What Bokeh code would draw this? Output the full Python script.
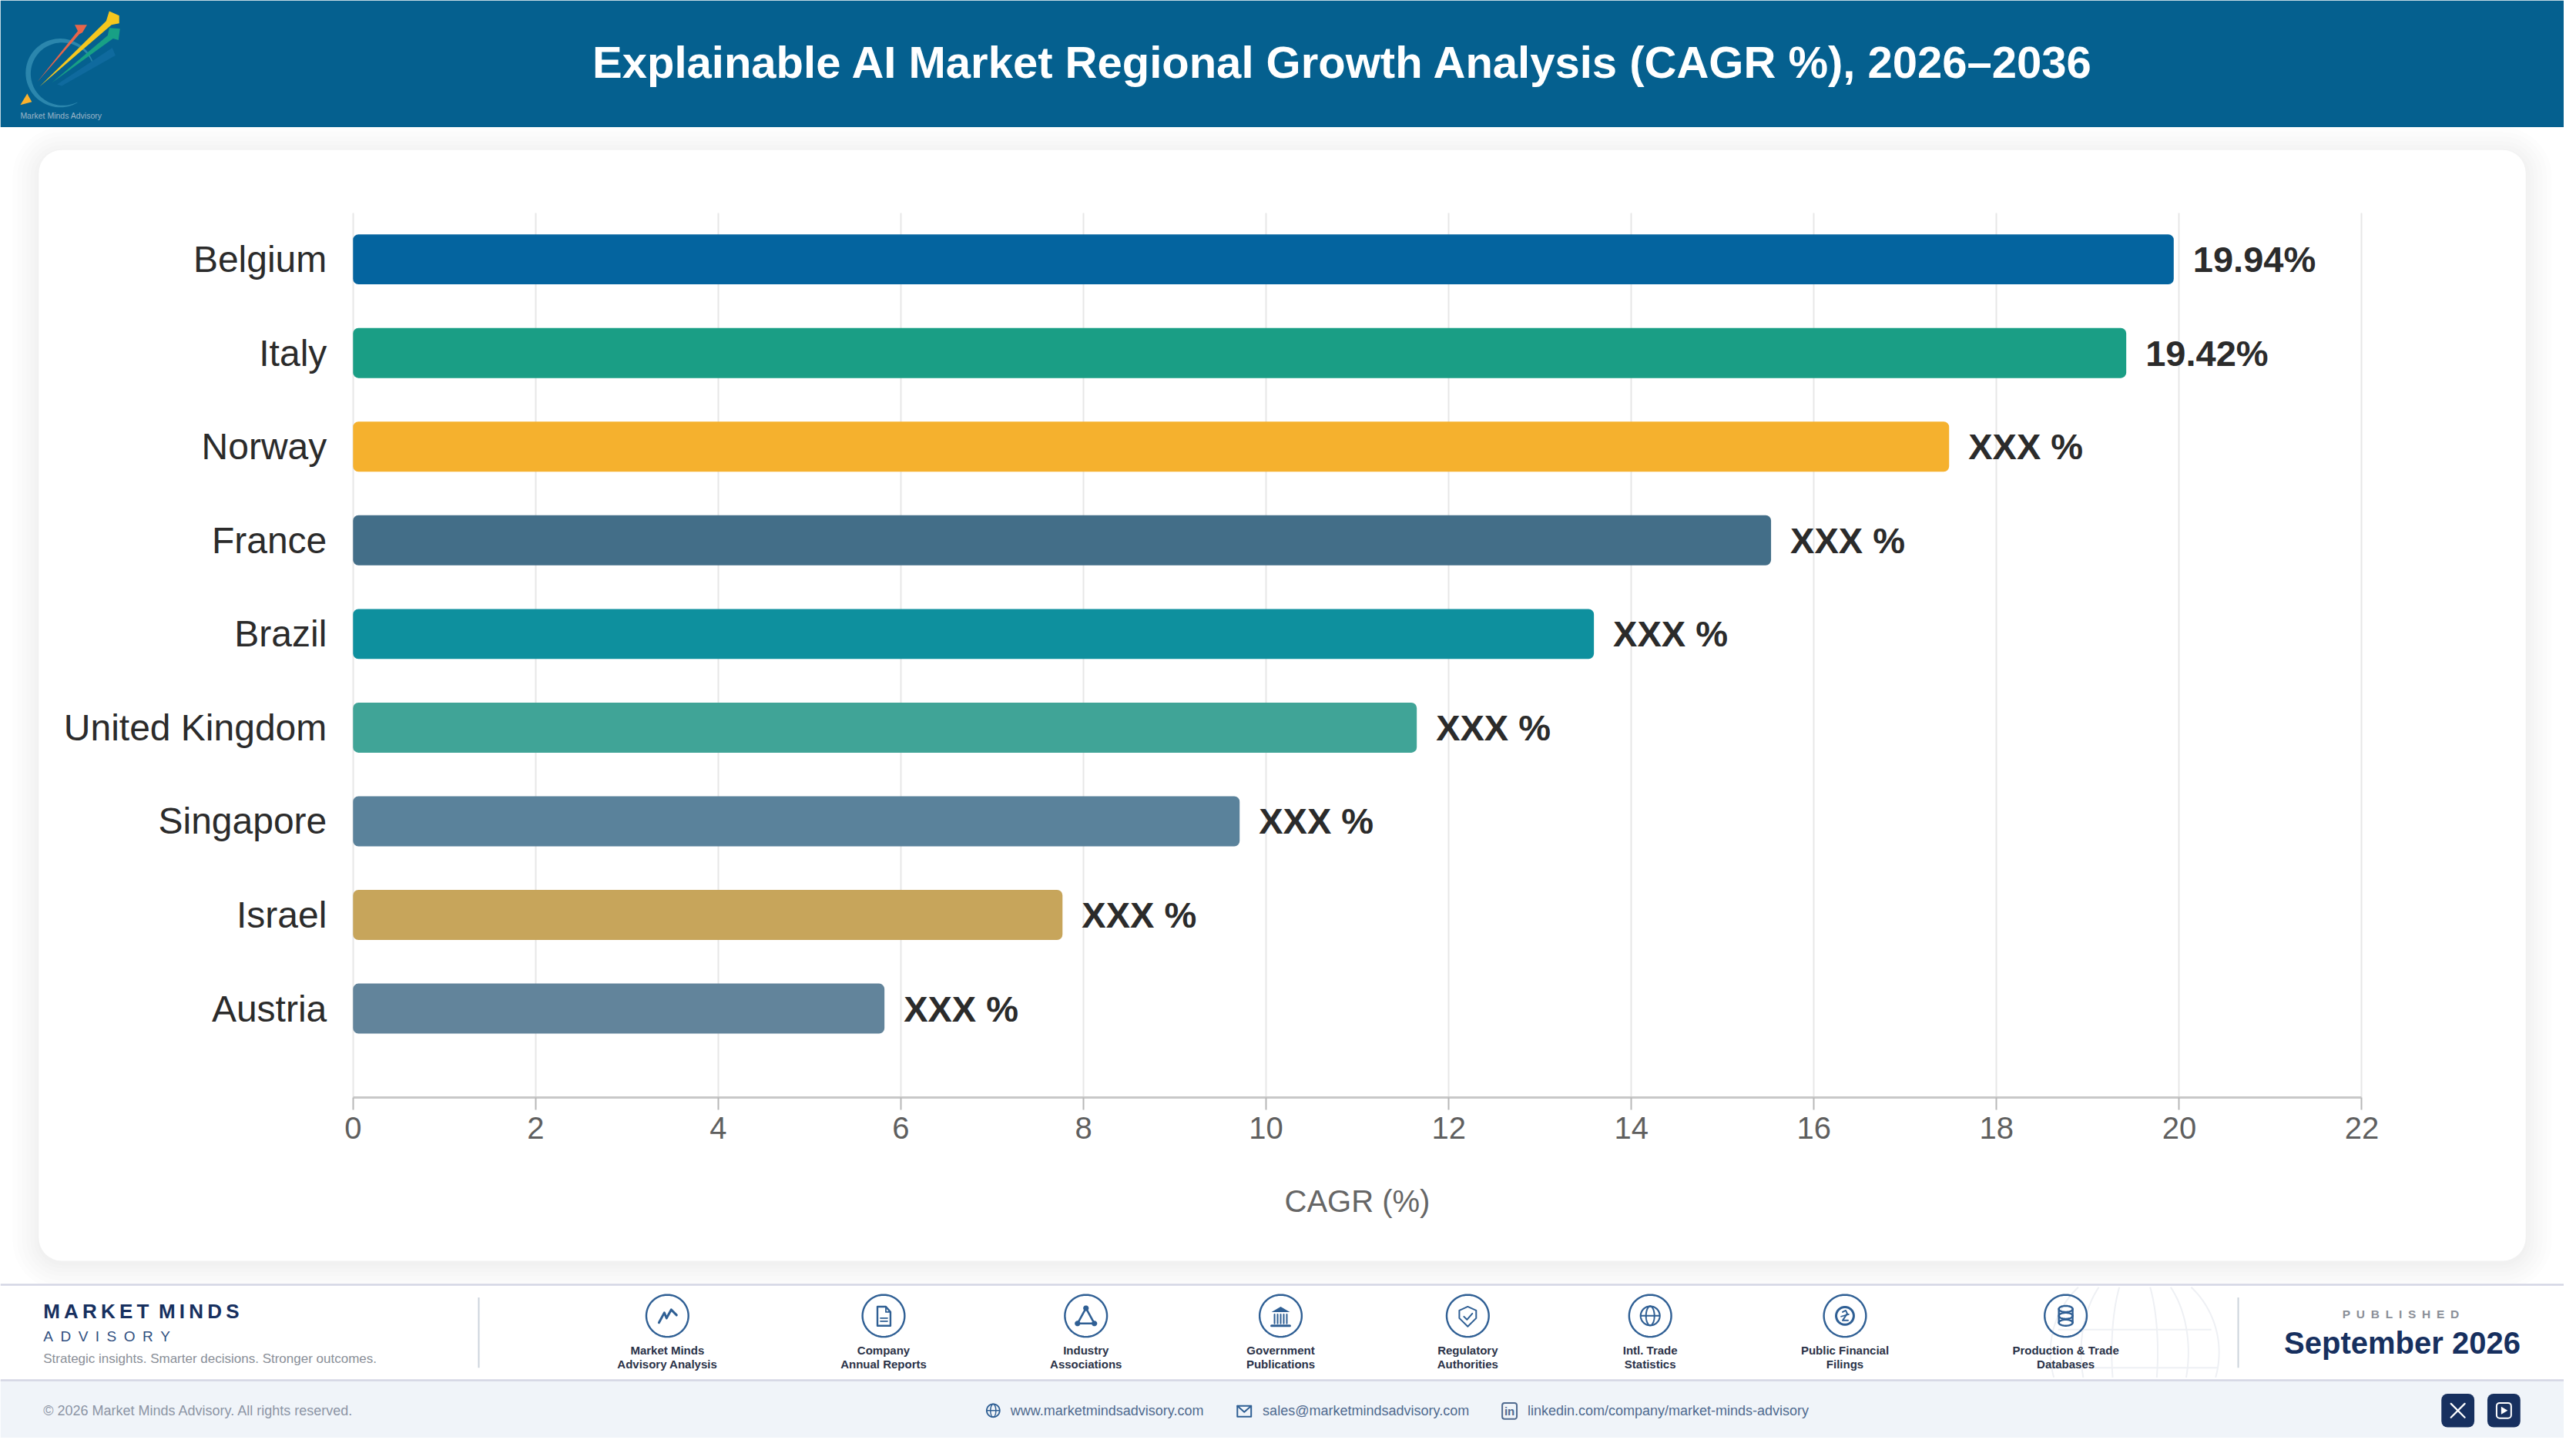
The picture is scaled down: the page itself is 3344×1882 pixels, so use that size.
import numpy as np
from bokeh.core.properties import value
from bokeh.embed import file_html
from bokeh.resources import INLINE
from bokeh.plotting import figure
from bokeh.models import (ColumnDataSource, FixedTicker, Grid, LinearAxis, Range1d)

# ---------- data ----------
categories = ["Belgium", "Italy", "Norway", "France", "Brazil",
              "United Kingdom", "Singapore", "Israel", "Austria"]
cagr_values = [19.94, 19.42, 17.48, 15.53, 13.59, 11.65, 9.71, 7.77, 5.82]
value_labels = ["19.94%", "19.42%", "XXX %", "XXX %", "XXX %", "XXX %", "XXX %", "XXX %", "XXX %"]
bar_colors = ["#04649F", "#1A9E85", "#F5B12E", "#436E88", "#0E909E",
              "#40A497", "#5A829B", "#C7A55B", "#62849B"]
x_ticks = [0, 2, 4, 6, 8, 10, 12, 14, 16, 18, 20, 22]
chart_title = "Explainable AI Market Regional Growth Analysis (CAGR %), 2026–2036"
source_labels = [("Market Minds", "Advisory Analysis"), ("Company", "Annual Reports"),
                 ("Industry", "Associations"), ("Government", "Publications"),
                 ("Regulatory", "Authorities"), ("Intl. Trade", "Statistics"),
                 ("Public Financial", "Filings"), ("Production & Trade", "Databases")]

# ---------- page geometry (reference pixels) ----------
REF_W, REF_H = 3344, 1882
W, H = 3328, 1866
X0, PX_PER_UNIT = 460.0, 119.1
Y0, PX_PER_RANK = 339.0, 122.6
AXIS_Y, GRID_TOP = 1436.0, 278.0
FONT = "Liberation Sans"
NAVY, ICON = "#17305F", "#2F5F94"

def rx(px):
    return (px - X0) / PX_PER_UNIT

def ry(py):
    return (py - Y0) / PX_PER_RANK

p = figure(width=W, height=H, output_backend="svg", toolbar_location=None,
           x_range=Range1d(rx(0), rx(REF_W)),
           y_range=Range1d(ry(REF_H), ry(0)),
           x_axis_location=None, y_axis_location=None,
           min_border=0, outline_line_color=None, background_fill_color="#FFFFFF",
           border_fill_color="#FFFFFF")
p.xgrid.visible = False
p.ygrid.visible = False
p.extra_x_ranges["px"] = Range1d(0, REF_W)
p.extra_y_ranges["px"] = Range1d(REF_H, 0)
PX = dict(x_range_name="px", y_range_name="px")

def rect(l, t, r, b, color, radius=0, alpha=1.0, level="image", line=None, lw=0):
    p.quad(left=[l], right=[r], top=[t], bottom=[b], fill_color=color, fill_alpha=alpha,
           line_color=line, line_width=lw, border_radius=radius, level=level, **PX)

def text(x, y, s, size, color, bold=False, align="left", level="overlay"):
    p.text(x=[x], y=[y], text=[s], text_font=value(FONT), text_font_size=f"{size}px",
           text_font_style="bold" if bold else "normal", text_color=color,
           text_align=align, text_baseline="middle", level=level, **PX)

def poly(cx, cy, pts, color=ICON, lw=2.4, level="overlay"):
    a = np.array(pts, dtype=float)
    p.line(cx + a[:, 0], cy + a[:, 1], line_color=color, line_width=lw, line_join="round",
           line_cap="round", level=level, **PX)

def fill(cx, cy, pts, color=ICON, alpha=1.0, level="overlay"):
    a = np.array(pts, dtype=float)
    p.patch(cx + a[:, 0], cy + a[:, 1], fill_color=color, fill_alpha=alpha, line_color=None,
            level=level, **PX)

def ell(a, b=None, dy=0.0):
    b = a if b is None else b
    t = np.linspace(0, 2 * np.pi, 61)
    return np.c_[a * np.cos(t), dy + b * np.sin(t)]

# ---------- header ----------
rect(0, 0, REF_W, 166, "#05608F")
text(1752, 81, chart_title, 58, "#FFFFFF", bold=True, align="center")

# logo
t = np.radians(np.linspace(190, 480, 70))
taper = np.sin(np.linspace(0.05, np.pi - 0.05, 70)) * 6.5 + 0.3
crescent_x = np.r_[78 + 45 * np.cos(t), (78 + (45 - taper) * np.cos(t))[::-1]]
crescent_y = np.r_[95 + 45 * np.sin(t), (95 + (45 - taper) * np.sin(t))[::-1]]
crescent_x = 156 - crescent_x
fill(0, 0, np.c_[crescent_x, crescent_y], "#2B86AD", level="underlay")
fill(0, 0, [(26, 137), (35, 122), (41, 133)], "#FBB12C")
fill(0, 0, [(74, 110), (146, 62), (150, 72), (80, 112)], "#0F6A9E")
fill(0, 0, [(67, 108), (140, 46), (142, 36), (156, 37), (154, 52), (147, 50)], "#18A085")
fill(0, 0, [(51, 113), (138, 27), (142, 14), (155, 20), (155, 30), (145, 32)], "#F6C71E")
fill(0, 0, [(48, 107), (101, 40), (97, 32), (113, 32), (107, 42), (103, 44)], "#E8654A")
text(26, 151, "Market Minds Advisory", 10.5, "#9DB6C8")

# ---------- card with soft shadow ----------
for d in (34, 28, 22, 16, 11, 6, 2):
    rect(50 - d, 196 - d + 4, 3294 + d, 1650 + d + 4, "#000000", radius=30 + d, alpha=0.0085)
rect(50, 196, 3294, 1650, "#FFFFFF", radius=30)

# ---------- chart ----------
ranks = list(range(len(categories)))
src = ColumnDataSource(dict(rank=ranks, cat=categories, val=cagr_values,
                            lab=value_labels, col=bar_colors))

p.add_layout(Grid(dimension=0, ticker=FixedTicker(ticks=x_ticks), grid_line_color="#E7E7E7",
                  grid_line_width=2, level="underlay", bounds=(0, 22),
                  cross_bounds=(ry(AXIS_Y), ry(GRID_TOP))))

p.hbar(y="rank", left=0, right="val", height=65.5 / PX_PER_RANK, fill_color="col",
       line_color=None, border_radius=7, source=src)
p.text(x="val", y="rank", text="lab", x_offset=25, text_font=value(FONT), text_font_size="47px",
       text_font_style="bold", text_color="#2B2B2B", text_baseline="middle", source=src)

xaxis = LinearAxis(ticker=FixedTicker(ticks=x_ticks), fixed_location=ry(AXIS_Y), bounds=(0, 22),
                   axis_line_color="#C8C8C8", axis_line_width=3,
                   major_tick_line_color="#B8B8B8", major_tick_line_width=2,
                   major_tick_out=16, major_tick_in=0, minor_tick_line_color=None,
                   major_label_text_font=FONT, major_label_text_font_size="40px",
                   major_label_text_color="#5F5F5F", major_label_standoff=10,
                   axis_label="CAGR (%)", axis_label_text_font=FONT,
                   axis_label_text_font_size="40px", axis_label_text_font_style="normal",
                   axis_label_text_color="#666666", axis_label_standoff=55)
p.add_layout(xaxis, "below")

yaxis = LinearAxis(ticker=FixedTicker(ticks=ranks),
                   major_label_overrides={r: c for r, c in zip(ranks, categories)},
                   fixed_location=0, axis_line_color=None, major_tick_line_color=None,
                   minor_tick_line_color=None, major_label_text_font=FONT,
                   major_label_text_font_size="48px", major_label_text_color="#2B2B2B",
                   major_label_standoff=28)
p.add_layout(yaxis, "left")

# ---------- footer ----------
rect(0, 1680, REF_W, 1806, "#FFFFFF", level="underlay")
rect(0, 1806, REF_W, REF_H, "#F0F4F9", level="underlay")
rect(0, 1680, REF_W, 1682.5, "#D4D6E4", level="underlay")
rect(0, 1805, REF_W, 1807.5, "#D4D6E4", level="underlay")

# watermark globe
def clipped(xs, ys):
    m = (ys > 1683) & (ys < 1805)
    p.line(np.where(m, xs, np.nan), np.where(m, ys, np.nan), line_color="#EEF0F4",
           line_width=2, level="glyph", **PX)
ts = np.linspace(0, 2 * np.pi, 241)
for a in (110, 70, 30):
    clipped(2784 + a * np.cos(ts), 1770 + 115 * np.sin(ts))
for yy, a in ((1740, 100), (1790, 108)):
    clipped(np.array([2784 - a, 2784 + a]), np.array([yy, yy], dtype=float))

text(56, 1716, "M\u2009A\u2009R\u2009K\u2009E\u2009T\u00a0\u2009M\u2009I\u2009N\u2009D\u2009S", 26, NAVY, bold=True)
text(56, 1749, "A\u2002D\u2002V\u2002I\u2002S\u2002O\u2002R\u2002Y", 19, "#2F4F80")
text(56, 1778, "Strategic insights. Smarter decisions. Stronger outcomes.", 17, "#8A8F98")
for xd in (624, 2919):
    rect(xd - 1, 1698, xd + 1, 1790, "#CBD3DB", level="glyph")

icon_x = [870, 1152, 1416, 1670, 1914, 2152, 2406, 2694]
for cx, (l1, l2) in zip(icon_x, source_labels):
    poly(cx, 1722, ell(27.5))
    text(cx, 1767, l1, 15, "#2A3248", bold=True, align="center")
    text(cx, 1785, l2, 15, "#2A3248", bold=True, align="center")

c = 1722
# 1 chart
poly(870, c, [(-11, 9), (-4, -4), (-1, 3), (5, -8), (12, -1)], lw=3)
# 2 document
poly(1152, c, [(-8, -12), (3, -12), (9, -5), (9, 13), (-8, 13), (-8, -12)])
poly(1152, c, [(3, -12), (3, -5), (9, -5)], lw=1.8)
poly(1152, c, [(-4, 3), (5, 3)], lw=1.8)
poly(1152, c, [(-4, 7), (5, 7)], lw=1.8)
# 3 triangle network
poly(1416, c, [(0, -10), (-11, 10), (11, 10), (0, -10)], lw=2.6)
for dx, dy in ((0, -10), (-11, 10), (11, 10)):
    fill(1416 + dx, c + dy, ell(3.6))
# 4 institution
fill(1670, c, [(-12, -5), (0, -12), (12, -5)])
for dx in (-8, -4, 0, 4, 8):
    poly(1670, c, [(dx, -2), (dx, 10)], lw=2)
poly(1670, c, [(-12, 13), (12, 13)], lw=3)
# 5 shield
poly(1914, c, [(0, -12), (11, -7), (11, 3), (0, 14), (-11, 3), (-11, -7), (0, -12)], lw=2)
poly(1914, c, [(-5, 1), (-1, 5), (6, -3)], lw=2)
# 6 globe
poly(2152, c, ell(12.5), lw=2.2)
poly(2152, c, ell(5.5, 12.5), lw=2)
poly(2152, c, [(-12, 0), (12, 0)], lw=2)
# 7 coin
poly(2406, c, ell(11.5), lw=3)
poly(2406, c, [(-3, -5), (1, -7), (3, -3), (-3, 6), (4, 6)], lw=2)
poly(2406, c, [(-5, 1), (5, -2)], lw=1.6)
# 8 database
for dy in (-9, 0, 9):
    poly(2694, c, ell(9, 4, dy), lw=2.4)
poly(2694, c, [(-9, -9), (-9, 9)], lw=2.4)
poly(2694, c, [(9, -9), (9, 9)], lw=2.4)

text(3131, 1720, "P\u2002U\u2002B\u2002L\u2002I\u2002S\u2002H\u2002E\u2002D", 15.5, "#8A8F98", bold=True, align="center")
text(3133, 1757, "September 2026", 40, NAVY, bold=True, align="center")

# bottom strip
text(56, 1846, "© 2026 Market Minds Advisory. All rights reserved.", 18, "#8C95A5")
text(1317.5, 1846, "www.marketmindsadvisory.com", 18, "#4F6A8F")
text(1646.5, 1846, "sales@marketmindsadvisory.com", 18, "#4F6A8F")
text(1992, 1846, "linkedin.com/company/market-minds-advisory", 18, "#4F6A8F")
poly(1295, 1846, ell(8.5), lw=1.8)
poly(1295, 1846, ell(3.5, 8.5), lw=1.5)
poly(1295, 1846, [(-8, 0), (8, 0)], lw=1.5)
poly(1622.5, 1847, [(-9, -7), (9, -7), (9, 7), (-9, 7), (-9, -7)], lw=2)
poly(1622.5, 1847, [(-9, -7), (0, 1), (9, -7)], lw=2)
rect(1959, 1836, 1978, 1857, "#F0F4F9", radius=3, line="#4F6A8F", lw=2, level="glyph")
text(1968.5, 1847, "in", 15, "#4F6A8F", bold=True, align="center")

rect(3184, 1824, 3227, 1868, NAVY, radius=8, level="glyph")
rect(3244, 1824, 3287, 1868, NAVY, radius=8, level="glyph")
poly(3205.5, 1846, [(-9, -9), (9, 9)], "#FFFFFF", 2.2)
poly(3205.5, 1846, [(-9, 9), (9, -9)], "#FFFFFF", 2.2)
rect(3256, 1836, 3275, 1856, NAVY, radius=4, line="#FFFFFF", lw=2, level="overlay")
fill(3265.5, 1846, [(-3.5, -5), (5, 0), (-3.5, 5)], "#FFFFFF")

open("out.html", "w").write(file_html(p, INLINE))
